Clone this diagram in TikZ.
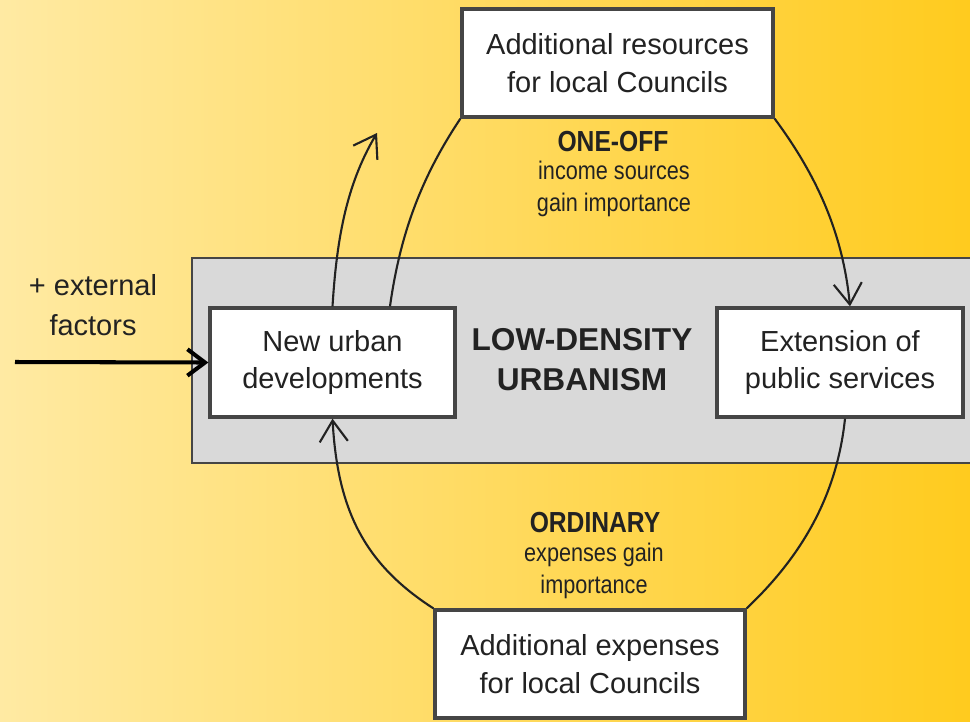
\documentclass[tikz,border=0pt]{standalone}
\usepackage{fontspec}
\setmainfont{Liberation Sans}
\newfontfamily\narrowfont[FakeStretch=0.85]{Liberation Sans}
\usetikzlibrary{positioning, calc, arrows.meta}
\definecolor{Paper}{HTML}{FFEAA3}
\definecolor{Gold}{HTML}{FFCB1E}
\definecolor{Band}{HTML}{D9D9D9}
\definecolor{Edge}{HTML}{454545}
\definecolor{Ink}{HTML}{222222}
\tikzset{
    whitebox/.style={rectangle, draw=Edge, line width=1.9pt, fill=white, text=Ink, align=center, inner sep=0pt, font=\fontsize{16.5}{21.5}\selectfont},
    bandbox/.style={fill=Band, draw=Edge, line width=1.6pt},
    coretext/.style={text=Ink, align=center, font=\bfseries\fontsize{18}{22.7}\selectfont},
    sidetext/.style={text=Ink, align=center, font=\fontsize{16.5}{22.7}\selectfont},
    tagtitle/.style={text=Ink, align=center, font=\narrowfont\bfseries\fontsize{16.5}{18}\selectfont},
    tagtext/.style={text=Ink, align=center, font=\narrowfont\fontsize{14.5}{18.5}\selectfont},
    loop/.style={draw=Ink, line width=1.2pt, -{Straight Barb[length=12pt, width=16pt]}},
    plainloop/.style={draw=Ink, line width=1.2pt},
    inflow/.style={draw=black, line width=2.3pt, -{Straight Barb[length=10pt, width=15pt]}},
}

\begin{document}
\begin{tikzpicture}[x=0.02cm, y=-0.02cm]
    \useasboundingbox (0,0) rectangle (970,721);
    \clip (0,0) rectangle (970,721);

    % Sfondo
    \shade[left color=Paper, right color=Gold] (0,0) rectangle (970,721);

    % Fascia centrale
    \draw[bandbox] (192,258) rectangle (990,463);

    % Riquadri
    \node[whitebox, minimum width=4.9cm, minimum height=2.18cm] (newurban) at (332.5,362.5) {New urban\\developments};
    \node[whitebox, minimum width=4.92cm, minimum height=2.18cm] (extension) at (840,362.5) {Extension of\\public services};
    \node[whitebox, minimum width=6.22cm, minimum height=2.16cm] (resources) at (617.5,63) {Additional resources\\for local Councils};
    \node[whitebox, minimum width=6.2cm, minimum height=2.16cm] (expenses) at (590,664) {Additional expenses\\for local Councils};

    \node[coretext] (core) at (582,360) {LOW-DENSITY\\URBANISM};
    \node[sidetext] (external) at (93,305) {+ external\\factors};

    % Etichette del ciclo
    \node[tagtitle] (oneoff) at (613,142) {ONE-OFF};
    \node[tagtext] (income) at (614,189) {income sources\\gain importance};
    \node[tagtitle] (ordinary) at (595,523) {ORDINARY};
    \node[tagtext] (ordexp) at (594,571) {expenses gain\\importance};

    % Fattori esterni
    \coordinate (source) at (15,362);
    \draw[inflow] (source) -- (newurban.west);

    % Ciclo
    \draw[plainloop] (resources.south west) .. controls +(-40,60) and +(10,-71) .. ([xshift=1.15cm]newurban.north);
    \draw[loop] (resources.south east) .. controls +(43,58) and +(-7,-72) .. ([xshift=0.2cm]extension.north);
    \draw[plainloop] ([xshift=0.1cm]extension.south) .. controls +(-8,76) and +(56,-53) .. (expenses.north east);
    \draw[loop] (expenses.north west) .. controls +(-70,-45) and +(5,90) .. (newurban.south);

    % Effetto di ritorno
    \coordinate (rebound) at (377,133);
    \draw[loop] (newurban.north) .. controls +(4,-63) and +(-32,54) .. (rebound);
\end{tikzpicture}
\end{document}
